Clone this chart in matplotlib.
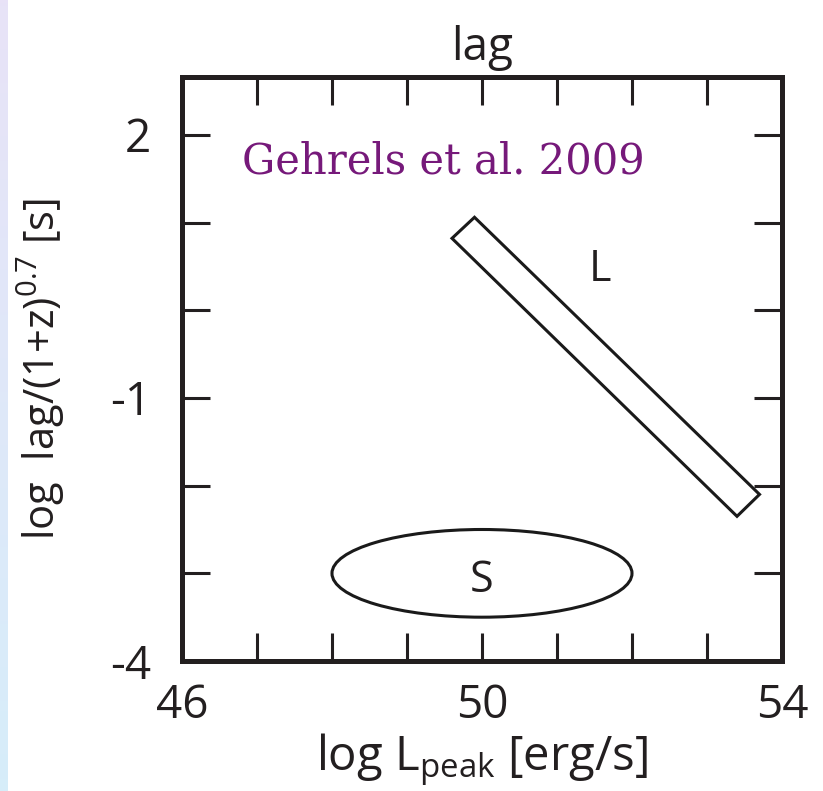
import numpy as np
import matplotlib.pyplot as plt
from matplotlib.patches import Polygon, Ellipse

plt.rcParams['font.family'] = ['Open Sans', 'DejaVu Sans']
plt.rcParams['mathtext.default'] = 'regular'

# axis layout (log L_peak vs log lag)
x_lim = [46, 54]
y_lim = [-4, 2.66]
x_ticks = [46, 47, 48, 49, 50, 51, 52, 53, 54]
x_labels = ["46", "", "", "", "50", "", "", "", "54"]
y_ticks = [-4, -3, -2, -1, 0, 1, 2]
y_labels = ["-4", "", "", "-1", "", "", "2"]

# long bursts: tilted band (corner points)
long_x = [49.6, 49.9, 53.7, 53.4]
long_y = [0.82, 1.06, -2.10, -2.35]

# short bursts: ellipse centre and extent
short_center = (50.0, -3.0)
short_width = 4.0
short_height = 1.0

fig = plt.figure(figsize=(8.23, 7.91), dpi=100)

# pale gradient strip on the left border
strip = fig.add_axes([0, 0, 0.009, 1])
grad = np.linspace(0, 1, 256).reshape(-1, 1, 1)
top_c = np.array([0.91, 0.89, 0.97])
bot_c = np.array([0.84, 0.93, 0.98])
strip.imshow(top_c * (1 - grad) + bot_c * grad, aspect='auto')
strip.axis('off')

ax = fig.add_axes([0.2211, 0.1643, 0.7291, 0.7384])

ax.add_patch(Polygon(np.column_stack([long_x, long_y]), closed=True,
                     fill=False, edgecolor='#1a1a1a', linewidth=2.2))
ax.add_patch(Ellipse(short_center, short_width, short_height,
                     fill=False, edgecolor='#1a1a1a', linewidth=2.2))

ax.text(51.58, 0.46, "L", fontsize=31, ha='center', va='center', color='#231f20')
ax.text(50.0, -3.08, "S", fontsize=31, ha='center', va='center', color='#231f20')
ax.text(46.8, 1.7, "Gehrels et al. 2009", fontsize=30, color='#76197a',
        family=['DejaVu Serif'], ha='left', va='center')

ax.set_xlim(x_lim)
ax.set_ylim(y_lim)
ax.set_xticks(x_ticks)
ax.set_xticklabels(x_labels)
ax.set_yticks(y_ticks)
ax.set_yticklabels(y_labels)
ax.tick_params(direction='in', length=20, width=2.2, color='#231f20',
               labelsize=33, labelcolor='#231f20', top=True, right=True)
ax.tick_params(axis='x', pad=16)
ax.tick_params(axis='y', pad=22)
for s in ax.spines.values():
    s.set_linewidth(3.6)
    s.set_color('#231f20')

ax.set_title("lag", fontsize=33, color='#231f20', pad=12)
ax.set_xlabel("log L$_{\\mathregular{peak}}$ [erg/s]", fontsize=34, color='#231f20', labelpad=2)
ax.set_ylabel("log  lag/(1+z)$^{\\mathregular{0.7}}$ [s]", fontsize=30, color='#231f20', labelpad=31)

fig.savefig("out.png", dpi=100)
